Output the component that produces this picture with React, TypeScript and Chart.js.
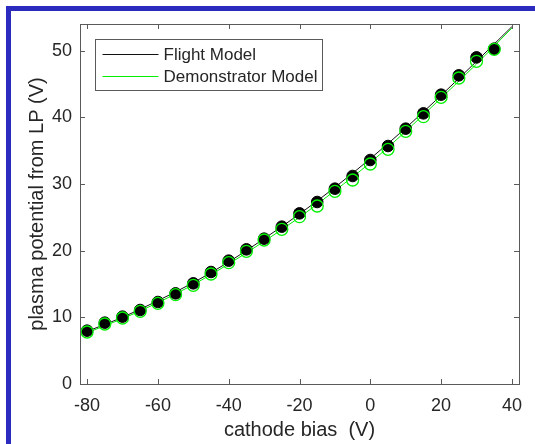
import React, { useEffect, useRef } from "react";
import { Chart, registerables } from "chart.js";

Chart.register(...registerables);

// ---- data ----
const BIAS = [-80, -75, -70, -65, -60, -55, -50, -45, -40, -35, -30, -25, -20, -15, -10, -5, 0, 5, 10, 15, 20, 25, 30, 35];
const FLIGHT_PTS = [8.0, 9.2, 10.1, 11.1, 12.3, 13.6, 15.1, 16.8, 18.5, 20.2, 21.8, 23.6, 25.6, 27.3, 29.3, 31.2, 33.6, 35.7, 38.3, 40.6, 43.4, 46.3, 49.0, 50.3];
const DEMO_PTS = [7.8, 9.0, 9.9, 10.9, 12.1, 13.4, 14.8, 16.5, 18.2, 19.9, 21.6, 23.2, 25.1, 26.7, 28.9, 30.6, 33.0, 35.2, 37.9, 40.1, 43.0, 45.9, 48.4, 50.2];
const FIT_X = [-80, -70, -60, -50, -40, -30, -20, -10, 0, 10, 20, 30, 40];
const FLIGHT_FIT = [7.9, 10.0, 12.5, 15.2, 18.3, 21.8, 25.5, 29.5, 33.8, 38.4, 43.3, 48.4, 53.6];
const DEMO_FIT = [7.7, 9.8, 12.2, 14.9, 18.0, 21.4, 25.0, 29.0, 33.2, 37.9, 42.9, 48.0, 53.4];
const X_TICKS = [-80, -60, -40, -20, 0, 20, 40];
const Y_TICKS = [0, 10, 20, 30, 40, 50];
const SERIES_NAMES = ["Flight Model", "Demonstrator Model"];
const X_TITLE = "cathode bias  (V)";
const Y_TITLE = "plasma potential from LP (V)";

const TEXT = "#262626";
const AXIS = "#5a5a5a";
const BLACK = "#111111";
const GREEN = "#00f000";
const FONT = "'Liberation Sans', Arial, Helvetica, sans-serif";

const pts = (xs: number[], ys: number[]) => xs.map((x, i) => ({ x, y: ys[i] }));

const boxPlugin = {
  id: "matlabBox",
  afterDraw(chart: any) {
    const { ctx, chartArea: a, scales } = chart;
    ctx.save();
    ctx.strokeStyle = AXIS;
    ctx.lineWidth = 1;
    ctx.strokeRect(Math.round(a.left) + 0.5, Math.round(a.top) + 0.5, Math.round(a.right - a.left), Math.round(a.bottom - a.top));
    const tl = 5;
    ctx.beginPath();
    X_TICKS.forEach((v) => {
      const px = Math.round(scales.x.getPixelForValue(v)) + 0.5;
      ctx.moveTo(px, a.bottom);
      ctx.lineTo(px, a.bottom - tl);
      ctx.moveTo(px, a.top);
      ctx.lineTo(px, a.top + tl);
    });
    Y_TICKS.forEach((v) => {
      const py = Math.round(scales.y.getPixelForValue(v)) + 0.5;
      ctx.moveTo(a.left, py);
      ctx.lineTo(a.left + tl, py);
      ctx.moveTo(a.right, py);
      ctx.lineTo(a.right - tl, py);
    });
    ctx.stroke();

    // legend
    const lx = Math.round(a.left) + 15.5;
    const ly = Math.round(a.top) + 15.5;
    const lw = 227;
    const lh = 51;
    ctx.fillStyle = "#ffffff";
    ctx.fillRect(lx, ly, lw, lh);
    ctx.strokeStyle = AXIS;
    ctx.strokeRect(lx, ly, lw, lh);
    const colors = [BLACK, GREEN];
    ctx.font = `17px ${FONT}`;
    ctx.textBaseline = "middle";
    ctx.textAlign = "left";
    SERIES_NAMES.forEach((name, i) => {
      const y = Math.round(ly + 14 + i * 22) + 0.5;
      ctx.strokeStyle = colors[i];
      ctx.lineWidth = 1;
      ctx.beginPath();
      ctx.moveTo(lx + 7, y);
      ctx.lineTo(lx + 63, y);
      ctx.stroke();
      ctx.fillStyle = TEXT;
      ctx.fillText(name, lx + 68, y + 1);
    });
    ctx.restore();
  },
};

export default function App() {
  const ref = useRef<HTMLCanvasElement | null>(null);
  useEffect(() => {
    if (!ref.current) return;
    const chart = new Chart(ref.current, {
      type: "scatter",
      data: {
        datasets: [
          {
            label: SERIES_NAMES[1] + " data",
            data: pts(BIAS, DEMO_PTS),
            showLine: false,
            pointRadius: 6,
            pointBackgroundColor: "rgba(0,0,0,0)",
            pointBorderColor: GREEN,
            pointBorderWidth: 1.3,
            order: 0,
          },
          {
            label: SERIES_NAMES[0] + " data",
            data: pts(BIAS, FLIGHT_PTS),
            showLine: false,
            pointRadius: 5.8,
            pointBackgroundColor: "#000000",
            pointBorderColor: "#000000",
            pointBorderWidth: 1,
            order: 1,
          },
          {
            label: SERIES_NAMES[1],
            data: pts(FIT_X, DEMO_FIT),
            showLine: true,
            pointRadius: 0,
            borderColor: GREEN,
            borderWidth: 1,
            cubicInterpolationMode: "monotone",
            order: 2,
          },
          {
            label: SERIES_NAMES[0],
            data: pts(FIT_X, FLIGHT_FIT),
            showLine: true,
            pointRadius: 0,
            borderColor: BLACK,
            borderWidth: 1,
            cubicInterpolationMode: "monotone",
            order: 3,
          },
        ],
      } as any,
      options: {
        responsive: false,
        animation: false,
        devicePixelRatio: 1,
        layout: { padding: { top: 24, right: 16, left: 0, bottom: 0 } },
        plugins: { legend: { display: false }, tooltip: { enabled: false } },
        scales: {
          x: {
            type: "linear",
            min: -82,
            max: 42,
            afterBuildTicks: (s: any) => {
              s.ticks = X_TICKS.map((v) => ({ value: v }));
            },
            afterFit: (s: any) => {
              s.height = 60;
            },
            grid: { display: false, drawTicks: false },
            border: { display: false },
            ticks: {
              autoSkip: false,
              maxRotation: 0,
              padding: 11,
              color: TEXT,
              font: { family: FONT, size: 18 },
              callback: (v: any) => String(v),
            },
            title: {
              display: true,
              text: X_TITLE,
              color: TEXT,
              font: { family: FONT, size: 20 },
              padding: { top: 0, bottom: 2 },
            },
          },
          y: {
            type: "linear",
            min: 0,
            max: 54,
            afterBuildTicks: (s: any) => {
              s.ticks = Y_TICKS.map((v) => ({ value: v }));
            },
            afterFit: (s: any) => {
              s.width = 80;
            },
            grid: { display: false, drawTicks: false },
            border: { display: false },
            ticks: {
              autoSkip: false,
              padding: 8,
              color: TEXT,
              font: { family: FONT, size: 18 },
              callback: (v: any) => String(v),
            },
            title: {
              display: true,
              text: Y_TITLE,
              color: TEXT,
              font: { family: FONT, size: 20 },
              padding: { top: 25, bottom: 0 },
            },
          },
        },
      } as any,
      plugins: [boxPlugin],
    });
    return () => chart.destroy();
  }, []);

  return (
    <div style={{ position: "fixed", left: 0, top: 0, width: 535, height: 444, background: "#ffffff", overflow: "hidden" }}>
      <canvas ref={ref} width={535} height={444} style={{ position: "absolute", left: 0, top: 0, width: 535, height: 444 }} />
      <div
        style={{
          position: "absolute",
          left: 6,
          top: 6,
          right: 0,
          bottom: 0,
          borderLeft: "5px solid #2b2bbd",
          borderTop: "5px solid #2b2bbd",
          pointerEvents: "none",
        }}
      />
    </div>
  );
}
